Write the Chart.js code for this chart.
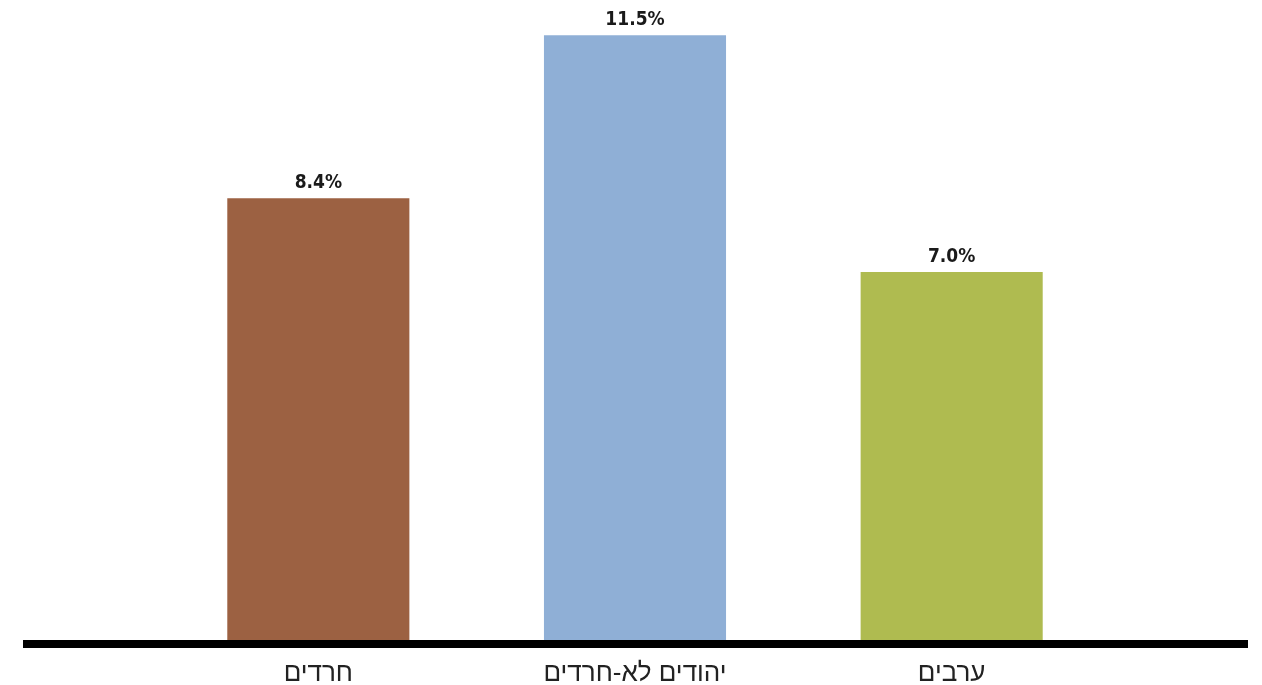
<!DOCTYPE html>
<html lang="he">
<head>
<meta charset="utf-8">
<script src="https://cdn.jsdelivr.net/npm/chart.js@4"></script>
<style>
  html, body { margin: 0; padding: 0; background: #fff; }
  #wrap { width: 1262px; height: 685px; }
</style>
</head>
<body>
<div id="wrap"><canvas id="barChart"></canvas></div>
<script>
const categories = ['חרדים', 'יהודים לא-חרדים', 'ערבים'];
const values = [8.4, 11.5, 7.0];
const barColors = ['#9c6142', '#8fafd6', '#afbb50'];

// value labels above each bar
const valueLabels = {
  id: 'valueLabels',
  afterDatasetsDraw(chart) {
    const ctx = chart.ctx;
    const meta = chart.getDatasetMeta(0);
    ctx.save();
    ctx.font = 'bold 19px "Liberation Sans Narrow", "DejaVu Sans Condensed", sans-serif';
    ctx.fillStyle = '#1a1a1a';
    ctx.textAlign = 'center';
    ctx.textBaseline = 'middle';
    meta.data.forEach((bar, i) => {
      ctx.fillText(values[i].toFixed(1) + '%', bar.x, bar.y - 15);
    });
    ctx.restore();
  }
};

// thick base line, wider than the plot area
const baseLine = {
  id: 'baseLine',
  afterDraw(chart) {
    const ctx = chart.ctx;
    const y0 = chart.scales.y.getPixelForValue(0);
    ctx.save();
    ctx.fillStyle = '#000';
    ctx.fillRect(23, y0, 1225, 8);
    ctx.restore();
  }
};

const ctx = document.getElementById('barChart').getContext('2d');
const myChart = new Chart(ctx, {
  type: 'bar',
  data: {
    labels: categories,
    datasets: [{
      data: values,
      backgroundColor: barColors,
      categoryPercentage: 1,
      barPercentage: 0.575
    }]
  },
  options: {
    responsive: true,
    maintainAspectRatio: false,
    animation: false,
    layout: { padding: { left: 160, right: 152, top: 9, bottom: 0 } },
    plugins: {
      legend: { display: false },
      tooltip: { enabled: false }
    },
    scales: {
      x: {
        grid: { display: false },
        border: { display: false },
        afterFit(scale) { scale.height = 45; },
        ticks: {
          color: '#222',
          padding: 10,
          font: { family: '"Liberation Sans", Arial, sans-serif', size: 26 }
        }
      },
      y: {
        display: false,
        min: 0,
        max: 12
      }
    }
  },
  plugins: [valueLabels, baseLine]
});
</script>
</body>
</html>
